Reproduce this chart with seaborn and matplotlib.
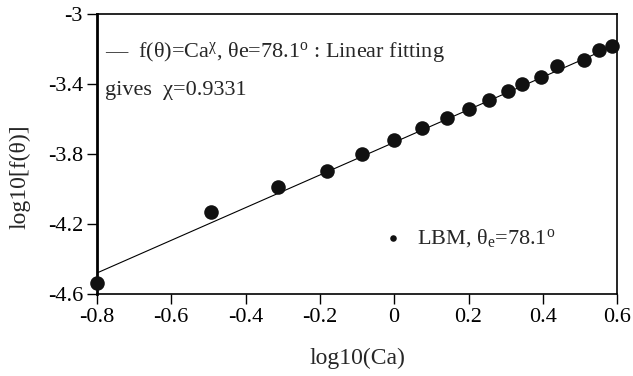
import numpy as np
import pandas as pd
import seaborn as sns
import matplotlib
matplotlib.use('Agg')
import matplotlib.pyplot as plt

# dados LBM
log_ca = [-0.800, -0.493, -0.313, -0.181, -0.086, 0.000, 0.076, 0.142, 0.202,
          0.255, 0.305, 0.345, 0.395, 0.438, 0.510, 0.552, 0.587]
log_f = [-4.535, -4.133, -3.990, -3.895, -3.802, -3.720, -3.653, -3.593, -3.545,
         -3.491, -3.440, -3.400, -3.360, -3.299, -3.261, -3.207, -3.185]

# ajuste linear
chi = 0.9331
intercept = -3.7335
fit_range = [-0.8, 0.6]

x_ticks = [-0.8, -0.6, -0.4, -0.2, 0, 0.2, 0.4, 0.6]
x_labels = ['-0.8', '-0.6', '-0.4', '-0.2', '0', '0.2', '0.4', '0.6']
y_ticks = [-4.6, -4.2, -3.8, -3.4, -3.0]
y_labels = ['-4.6', '-4.2', '-3.8', '-3.4', '-3']

df = pd.DataFrame({'x': log_ca, 'y': log_f})
fit_x = np.array(fit_range)
fit = pd.DataFrame({'x': fit_x, 'y': chi * fit_x + intercept})

sns.set_style('ticks')
plt.rcParams['font.family'] = ['Liberation Serif', 'DejaVu Serif']
# letras gregas direitas, como no original
plt.rcParams['mathtext.fontset'] = 'custom'
plt.rcParams['mathtext.rm'] = 'Liberation Serif'
plt.rcParams['mathtext.it'] = 'Liberation Serif'
plt.rcParams['mathtext.bf'] = 'Liberation Serif:bold'
plt.rcParams['mathtext.default'] = 'rm'

fig, ax = plt.subplots(figsize=(6.33, 3.76), dpi=100)
fig.subplots_adjust(left=0.153, right=0.975, top=0.963, bottom=0.218)

sns.lineplot(data=fit, x='x', y='y', ax=ax, color='black', linewidth=0.8)
sns.scatterplot(data=df, x='x', y='y', ax=ax, color='#111111', s=110,
                edgecolor='#111111', linewidth=0, zorder=3, clip_on=False,
                label='LBM, θ$_{e}$=78.1$^{o}$')

ax.set_xlim(-0.8, 0.6)
ax.set_ylim(-4.6, -3.0)
ax.set_xticks(x_ticks)
ax.set_xticklabels(x_labels)
ax.set_yticks(y_ticks)
ax.set_yticklabels(y_labels)
ax.tick_params(axis='both', labelsize=16, direction='out', length=7, width=1,
               pad=3, color='black', labelcolor='black')
ax.set_xlabel('log10(Ca)', fontsize=17, labelpad=15)
ax.set_ylabel('log10[f(θ)]', fontsize=17)
ax.yaxis.set_label_coords(-0.128, 0.42)

for side in ['top', 'right', 'bottom']:
    ax.spines[side].set_linewidth(1.2)
    ax.spines[side].set_color('black')
ax.spines['left'].set_linewidth(2)
ax.spines['left'].set_color('black')

ax.text(0.015, 0.865,
        '—  f(θ)=Ca$^{χ}$, θe=78.1$^{o}$ : Linear fitting',
        transform=ax.transAxes, fontsize=16, va='center', ha='left')
ax.text(0.015, 0.725, 'gives  χ=0.9331', transform=ax.transAxes,
        fontsize=16, va='center', ha='left')

leg = ax.legend(loc='center left', bbox_to_anchor=(0.51, 0.2), frameon=False,
                fontsize=16, markerscale=0.45, handletextpad=0.05,
                borderaxespad=0)

fig.savefig('out.png', dpi=100)
